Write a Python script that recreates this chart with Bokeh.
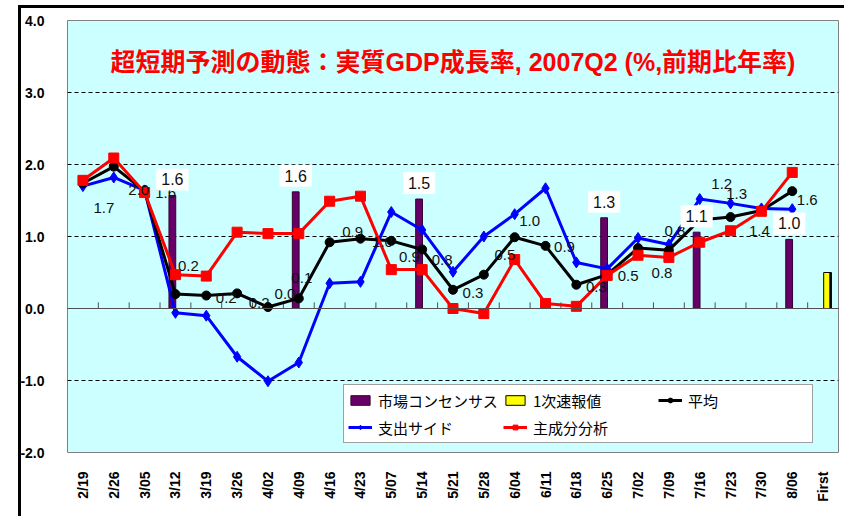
import math
from bokeh.plotting import figure
from bokeh.models import (FactorRange, Range1d, ColumnDataSource, Legend, LegendItem,
                          Span, Label, FixedTicker, NumeralTickFormatter, InlineStyleSheet)
from bokeh.transform import dodge
from bokeh.core.properties import value
from bokeh.embed import file_html
from bokeh.resources import INLINE

# ---------------- data ----------------
categories = ["2/19", "2/26", "3/05", "3/12", "3/19", "3/26", "4/02", "4/09", "4/16", "4/23",
              "5/07", "5/14", "5/21", "5/28", "6/04", "6/11", "6/18", "6/25", "7/02", "7/09",
              "7/16", "7/23", "7/30", "8/06", "First"]

consensus_cats = ["3/12", "4/09", "5/14", "6/25", "7/16", "8/06"]
consensus_vals = [1.57, 1.62, 1.52, 1.26, 1.06, 0.96]

first_cats = ["First"]
first_vals = [0.50]

line_cats = categories[:24]
expenditure = [1.70, 1.82, 1.64, -0.06, -0.10, -0.67, -1.01, -0.75, 0.35, 0.37, 1.34, 1.09,
               0.51, 1.00, 1.31, 1.67, 0.64, 0.55, 0.98, 0.89, 1.52, 1.46, 1.39, 1.38]
average = [1.74, 1.97, 1.63, 0.20, 0.18, 0.21, 0.02, 0.14, 0.92, 0.97, 0.94, 0.82,
           0.26, 0.47, 0.99, 0.87, 0.33, 0.47, 0.84, 0.81, 1.23, 1.27, 1.36, 1.63]
principal = [1.78, 2.09, 1.61, 0.47, 0.45, 1.06, 1.04, 1.04, 1.49, 1.56, 0.54, 0.54,
             0.00, -0.07, 0.68, 0.07, 0.03, 0.46, 0.74, 0.71, 0.92, 1.08, 1.35, 1.89]

y_ticks = [-2, -1, 0, 1, 2, 3, 4]

title_text = "超短期予測の動態：実質GDP成長率, 2007Q2 (%,前期比年率)"

# label placement (screen px, y down) for the 平均 data labels
avg_label_dx = [21, 25, 21, 13, 20, 22, 17, 3, 23, 22, 18, 20, 20, 21, 15, 19, 20, 21, 24, 6, 22, 6, -2, 15]
avg_label_dy = [25, 23, 2, -28, 2, 10, -13, -20, -10, 3, 16, 11, 3, -20, -16, 1, 2, 1, 25, -19, -36, -23, 20, 9]

# ---------------- figure ----------------
JP = "Noto Sans CJK JP"
AR = "Liberation Sans"

p = figure(x_range=FactorRange(*categories, range_padding=0, factor_padding=0),
           y_range=Range1d(-2, 4), width=844, height=516,
           output_backend="svg", toolbar_location=None,
           min_border_left=67, min_border_right=6, min_border_top=20, min_border_bottom=64,
           background_fill_color="#CCFFFF", border_fill_color="white")

p.outline_line_color = "#808080"
p.outline_line_width = 1

p.xgrid.visible = False
p.ygrid.grid_line_color = "black"
p.ygrid.grid_line_dash = "4 3"
p.ygrid.grid_line_width = 1

p.yaxis.ticker = FixedTicker(ticks=y_ticks)
p.yaxis.formatter = NumeralTickFormatter(format="0.0")
p.yaxis.axis_line_color = None
p.yaxis.major_tick_line_color = None
p.yaxis.minor_tick_line_color = None
p.yaxis.major_label_standoff = 17
p.yaxis.major_label_text_font = AR
p.yaxis.major_label_text_font_style = "bold"
p.yaxis.major_label_text_font_size = "14px"
p.yaxis.major_label_text_color = "black"

p.xaxis.axis_line_color = None
p.xaxis.major_tick_line_color = None
p.xaxis.major_label_orientation = math.pi / 2
p.xaxis.major_label_standoff = 13
p.xaxis.major_label_text_font = AR
p.xaxis.major_label_text_font_style = "bold"
p.xaxis.major_label_text_font_size = "14px"
p.xaxis.major_label_text_color = "black"

# zero line with category tick marks
p.add_layout(Span(location=0, dimension="width", line_color="#505050", line_width=1))
tick_src = ColumnDataSource(dict(x=categories[1:]))
p.segment(x0=dodge("x", -0.5, range=p.x_range), x1=dodge("x", -0.5, range=p.x_range),
          y0=0, y1=0.085, source=tick_src, line_color="#505050", line_width=1)

# bars
src_c = ColumnDataSource(dict(x=consensus_cats, top=consensus_vals,
                              label=[f"{v:.1f}" for v in consensus_vals]))
r_c = p.vbar(x=dodge("x", -0.1, range=p.x_range), top="top", bottom=0, width=0.22,
             source=src_c, fill_color="#660066", line_color="#330033", line_width=1)

src_f = ColumnDataSource(dict(x=first_cats, top=first_vals))
p.vbar(x=dodge("x", 0.16, range=p.x_range), top="top", bottom=0, width=0.22,
       source=src_f, fill_color="black", line_color="black")
r_f = p.vbar(x=dodge("x", 0.12, range=p.x_range), top="top", bottom=0, width=0.2,
             source=src_f, fill_color="#FFFF00", line_color="black", line_width=1)

# lines
src_l = ColumnDataSource(dict(x=line_cats, exp=expenditure, avg=average, pc=principal,
                              lab=[f"{v:.1f}" for v in average],
                              dx=avg_label_dx, dy=avg_label_dy))
r_bl = p.line("x", "exp", source=src_l, line_color="#0000FF", line_width=3)
r_bs = p.scatter("x", "exp", source=src_l, marker="diamond", size=11,
                 fill_color="#0000FF", line_color="#0000FF")
r_kl = p.line("x", "avg", source=src_l, line_color="black", line_width=3)
r_ks = p.scatter("x", "avg", source=src_l, marker="circle", size=9,
                 fill_color="black", line_color="black")
r_rl = p.line("x", "pc", source=src_l, line_color="#FF0000", line_width=3)
r_rs = p.scatter("x", "pc", source=src_l, marker="square", size=10,
                 fill_color="#FF0000", line_color="#FF0000")

# data labels of 平均
p.text(x="x", y="avg", text="lab", x_offset="dx", y_offset="dy", source=src_l,
       text_align="center", text_baseline="middle", text_font=value(AR),
       text_font_size="15px", text_color="#111111")

# bar labels with white boxes
p.text(x=dodge("x", -0.1, range=p.x_range), y="top", text="label", source=src_c,
       text_align="center", text_baseline="bottom", y_offset=-5,
       text_font=value(AR), text_font_size="16px", text_color="#111111",
       background_fill_color="white", padding=5)

# title
p.add_layout(Label(x=385.5, y=391, x_units="screen", y_units="screen", text=title_text,
                   text_align="center", text_baseline="middle",
                   text_font=f"'{AR}', '{JP}'", text_font_style="bold",
                   text_font_size="25px", text_color="#FF0000"))

# legend
legend = Legend(items=[
    LegendItem(label="市場コンセンサス", renderers=[r_c]),
    LegendItem(label="1次速報値", renderers=[r_f]),
    LegendItem(label="平均", renderers=[r_kl, r_ks]),
    LegendItem(label="支出サイド", renderers=[r_bl, r_bs]),
    LegendItem(label="主成分分析", renderers=[r_rl, r_rs]),
], location=(276, 9), orientation="horizontal", ncols=3)
legend.label_text_font = JP
legend.label_text_font_size = "15px"
legend.label_text_color = "black"
legend.label_width = 120
legend.label_height = 22
legend.glyph_width = 24
legend.glyph_height = 12
legend.label_standoff = 6
legend.spacing = 5
legend.padding = 4
legend.margin = 0
legend.border_line_color = "#404040"
legend.border_line_width = 1
legend.background_fill_color = "white"
legend.background_fill_alpha = 1
p.add_layout(legend)

# outer chart border: only its left and top edges fall inside the picture
p.stylesheets = [InlineStyleSheet(css="""
:host { position: relative; }
:host::after {
  content: ""; position: absolute; left: 18px; top: 5px;
  width: calc(100% - 18px); height: calc(100% - 5px);
  border-left: 3px solid black; border-top: 3px solid black;
  box-sizing: border-box; pointer-events: none;
}
""")]

open("out.html", "w").write(file_html(p, INLINE))
